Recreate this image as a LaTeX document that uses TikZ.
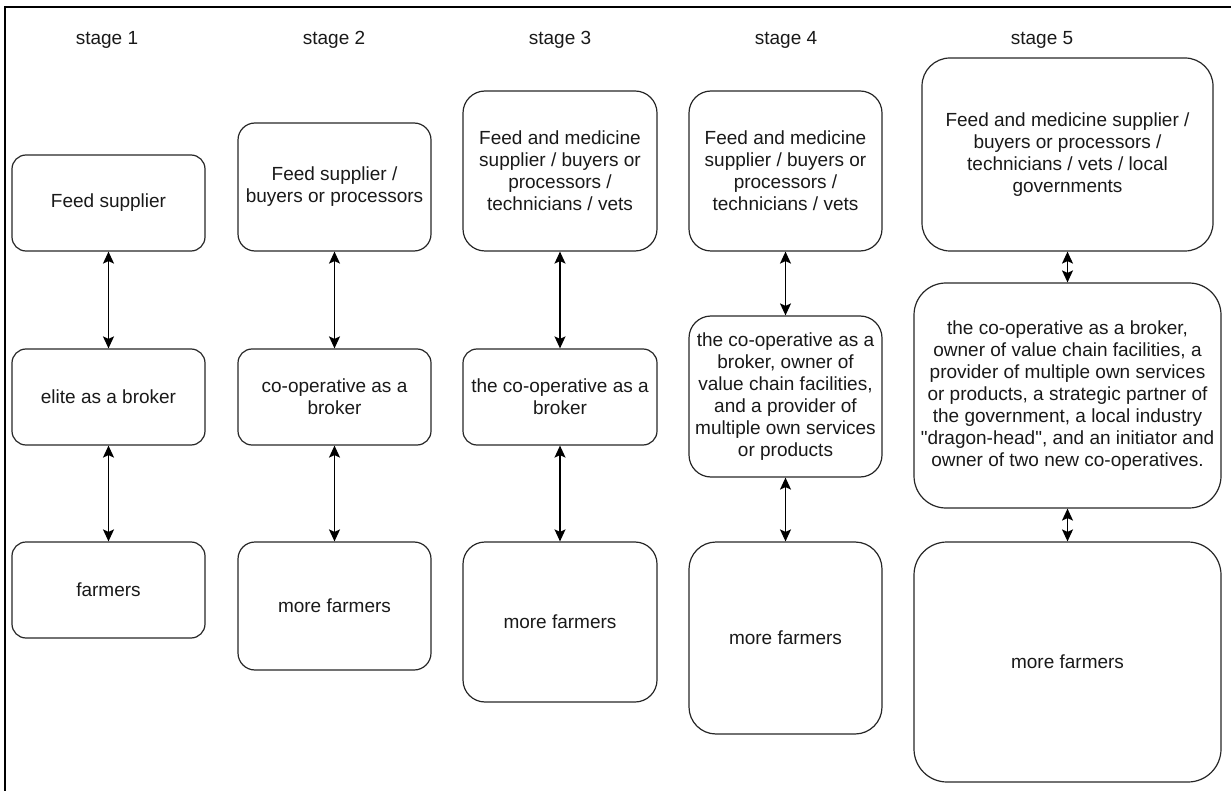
\documentclass[tikz,border=0pt]{standalone}
\usepackage{fontspec}
\setmainfont{Liberation Sans}[Ligatures=TeXOff]
\usetikzlibrary{arrows.meta}
\begin{document}
\begin{tikzpicture}[x=1pt,y=-1pt,
  box/.style={draw=black!85, line width=1.2pt, align=center, inner sep=0pt,
    font=\fontsize{19}{22}\selectfont, text=black!90},
  label/.style={inner sep=0pt, font=\fontsize{19}{22}\selectfont, text=black!90},
  link/.style={line width=1.4pt, {Stealth[length=12pt,width=11pt,inset=2.5pt]}-{Stealth[length=12pt,width=11pt,inset=2.5pt]}}]
\useasboundingbox (0,0) rectangle (1231,791);
% outer frame (top and left edges)
\draw[line width=2pt] (1231,7) -- (5,7) -- (5,791);

% stage headings
\node[label] (h1) at (107,40) {stage 1};
\node[label] (h2) at (334,40) {stage 2};
\node[label] (h3) at (560,40) {stage 3};
\node[label] (h4) at (786,40) {stage 4};
\node[label] (h5) at (1042,40) {stage 5};

% stage 1
\node[box, minimum width=193, minimum height=96, rounded corners=14] (a1) at (108.5,203) {Feed supplier};
\node[box, minimum width=193, minimum height=96, rounded corners=14] (b1) at (108.5,397) {elite as a broker};
\node[box, minimum width=193, minimum height=96, rounded corners=14] (c1) at (108.5,590) {farmers};

% stage 2
\node[box, minimum width=193, minimum height=128, rounded corners=17] (a2) at (334.5,187) {Feed supplier /\\buyers or processors};
\node[box, minimum width=193, minimum height=96, rounded corners=14] (b2) at (334.5,397) {co-operative as a\\broker};
\node[box, minimum width=193, minimum height=128, rounded corners=17] (c2) at (334.5,606) {more farmers};

% stage 3
\node[box, minimum width=194, minimum height=160, rounded corners=22] (a3) at (560,171) {Feed and medicine\\supplier / buyers or\\processors /\\technicians / vets};
\node[box, minimum width=194, minimum height=96, rounded corners=14] (b3) at (560,397) {the co-operative as a\\broker};
\node[box, minimum width=194, minimum height=160, rounded corners=22] (c3) at (560,622) {more farmers};

% stage 4
\node[box, minimum width=193, minimum height=160, rounded corners=22] (a4) at (785.5,171) {Feed and medicine\\supplier / buyers or\\processors /\\technicians / vets};
\node[box, minimum width=193, minimum height=161, rounded corners=22] (b4) at (785.5,396.5) {the co-operative as a\\broker, owner of\\value chain facilities,\\and a provider of\\multiple own services\\or products};
\node[box, minimum width=193, minimum height=192, rounded corners=27] (c4) at (785.5,638) {more farmers};

% stage 5
\node[box, minimum width=291, minimum height=193, rounded corners=28] (a5) at (1067.5,154.5) {Feed and medicine supplier /\\buyers or processors /\\technicians / vets / local\\governments};
\node[box, minimum width=307, minimum height=225, rounded corners=32] (b5) at (1067.5,395.5) {the co-operative as a broker,\\owner of value chain facilities, a\\provider of multiple own services\\or products, a strategic partner of\\the government, a local industry\\"dragon-head", and an initiator and\\owner of two new co-operatives.};
\node[box, minimum width=307, minimum height=240, rounded corners=33] (c5) at (1067.5,662) {more farmers};

% two-way links between the levels
\foreach \s in {1,...,5}{
  \draw[link] (a\s) -- (b\s);
  \draw[link] (b\s) -- (c\s);
}
\end{tikzpicture}
\end{document}
